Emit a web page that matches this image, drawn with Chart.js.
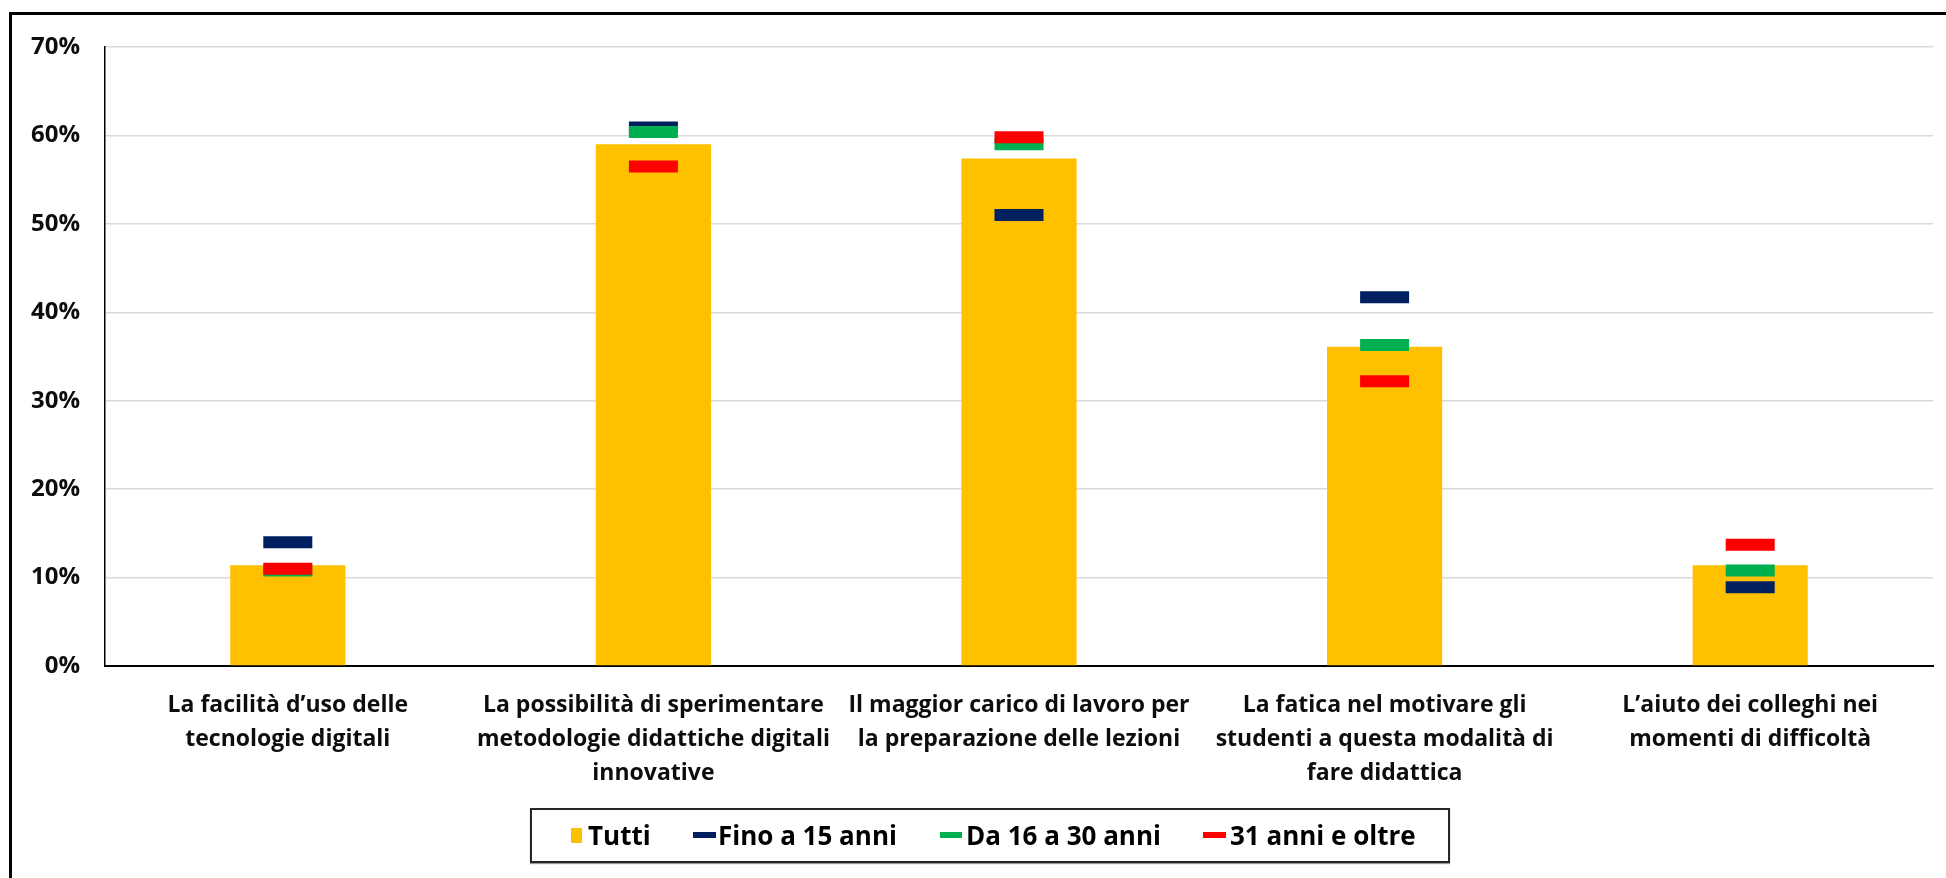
<!DOCTYPE html>
<html>
<head>
<meta charset="utf-8">
<script src="https://cdn.jsdelivr.net/npm/chart.js@4"></script>
<style>
  html, body { margin:0; padding:0; background:#fff; width:1946px; height:878px; overflow:hidden; }
  #frame { position:absolute; left:9px; top:12px; width:2000px; height:1000px; border:3px solid #000; box-sizing:border-box; }
  #c { position:absolute; left:0; top:0; }
  #legend { position:absolute; left:530px; top:808px; width:920px; height:55px; border:2px solid #262626; box-sizing:border-box; box-shadow:0 1px 1px #999; }
  .lg-mark { position:absolute; }
  .lg-text { position:absolute; font-family:"Open Sans", sans-serif; font-weight:bold; font-size:26px; color:#000; white-space:nowrap; line-height:26px; }
</style>
</head>
<body>
<div id="frame"></div>
<canvas id="c" width="1946" height="878"></canvas>
<div id="legend"></div>
<script>
const categories = [
  ["La facilità d’uso delle", "tecnologie digitali"],
  ["La possibilità di sperimentare", "metodologie didattiche digitali", "innovative"],
  ["Il maggior carico di lavoro per", "la preparazione delle lezioni"],
  ["La fatica nel motivare gli", "studenti a questa modalità di", "fare didattica"],
  ["L’aiuto dei colleghi nei", "momenti di difficoltà"]
];
const seriesNames = ["Tutti", "Fino a 15 anni", "Da 16 a 30 anni", "31 anni e oltre"];
const tutti = [11.4, 59.0, 57.4, 36.1, 11.4];
const fino15 = [14.0, 60.9, 51.0, 41.7, 8.9];
const da16a30 = [10.8, 60.4, 59.0, 36.3, 10.8];
const oltre31 = [11.0, 56.5, 59.8, 32.2, 13.7];
const yTicks = [0, 10, 20, 30, 40, 50, 60, 70];

const colors = ["#FFC000", "#002060", "#00B050", "#FF0000"];

function markerSet(label, data, color, order) {
  return {
    type: 'line', label, data, order,
    showLine: false,
    clip: false,
    pointStyle: 'line',
    pointRadius: 24.5,
    pointHoverRadius: 24.5,
    pointBorderWidth: 12,
    pointHoverBorderWidth: 12,
    borderColor: color,
    backgroundColor: color,
    pointBorderColor: color
  };
}

const chart = new Chart(document.getElementById('c'), {
  type: 'bar',
  data: {
    labels: categories,
    datasets: [
      { label: seriesNames[0], data: tutti, backgroundColor: colors[0], order: 4,
        categoryPercentage: 1, barPercentage: 0.315, borderWidth: 0 },
      markerSet(seriesNames[1], fino15, colors[1], 3),
      markerSet(seriesNames[2], da16a30, colors[2], 2),
      markerSet(seriesNames[3], oltre31, colors[3], 1)
    ]
  },
  options: {
    responsive: false,
    animation: false,
    devicePixelRatio: 1,
    layout: { autoPadding: false, padding: { left: 0, right: 13, top: 47, bottom: 62 } },
    plugins: { legend: { display: false }, tooltip: { enabled: false } },
    scales: {
      x: {
        grid: { display: false, drawTicks: false },
        border: { display: true, color: '#000', width: 2 },
        ticks: {
          autoSkip: false, maxRotation: 0, minRotation: 0, padding: 22,
          color: '#0d0d0d',
          font: { family: 'Open Sans', weight: 'bold', size: 23, lineHeight: '34px' }
        },
        afterFit: (s) => { s.height = 150; s.paddingLeft = 0; s.paddingRight = 0; }
      },
      y: {
        min: 0, max: 70,
        afterBuildTicks: (s) => { s.ticks = yTicks.map(v => ({ value: v })); },
        grid: { color: '#d9d9d9', lineWidth: 1.5, drawTicks: false },
        border: { display: true, color: '#000', width: 1.5 },
        ticks: {
          padding: 25, color: '#0d0d0d',
          font: { family: 'Open Sans', weight: 'bold', size: 24 },
          callback: (v) => v + '%'
        },
        afterFit: (s) => { s.width = 105; }
      }
    }
  }
});

// HTML legend built from the chart's datasets
const legendPos = [
  { mx: 571, mw: 11, mh: 15, tx: 588 },
  { mx: 693, mw: 23, mh: 6, tx: 718 },
  { mx: 940, mw: 22, mh: 6, tx: 966 },
  { mx: 1203, mw: 23, mh: 6, tx: 1230 }
];
const lg = document.getElementById('legend');
chart.data.datasets.forEach((ds, i) => {
  const p = legendPos[i];
  const m = document.createElement('div');
  m.className = 'lg-mark';
  m.style.left = (p.mx - 530 - 2) + 'px';
  m.style.width = p.mw + 'px';
  m.style.height = p.mh + 'px';
  m.style.top = (27 - 2 - p.mh / 2) + 'px';
  m.style.background = colors[i];
  lg.appendChild(m);
  const t = document.createElement('div');
  t.className = 'lg-text';
  t.textContent = ds.label;
  t.style.left = (p.tx - 530 - 2) + 'px';
  t.style.top = (27 - 2 - 13) + 'px';
  lg.appendChild(t);
});
</script>
</body>
</html>
